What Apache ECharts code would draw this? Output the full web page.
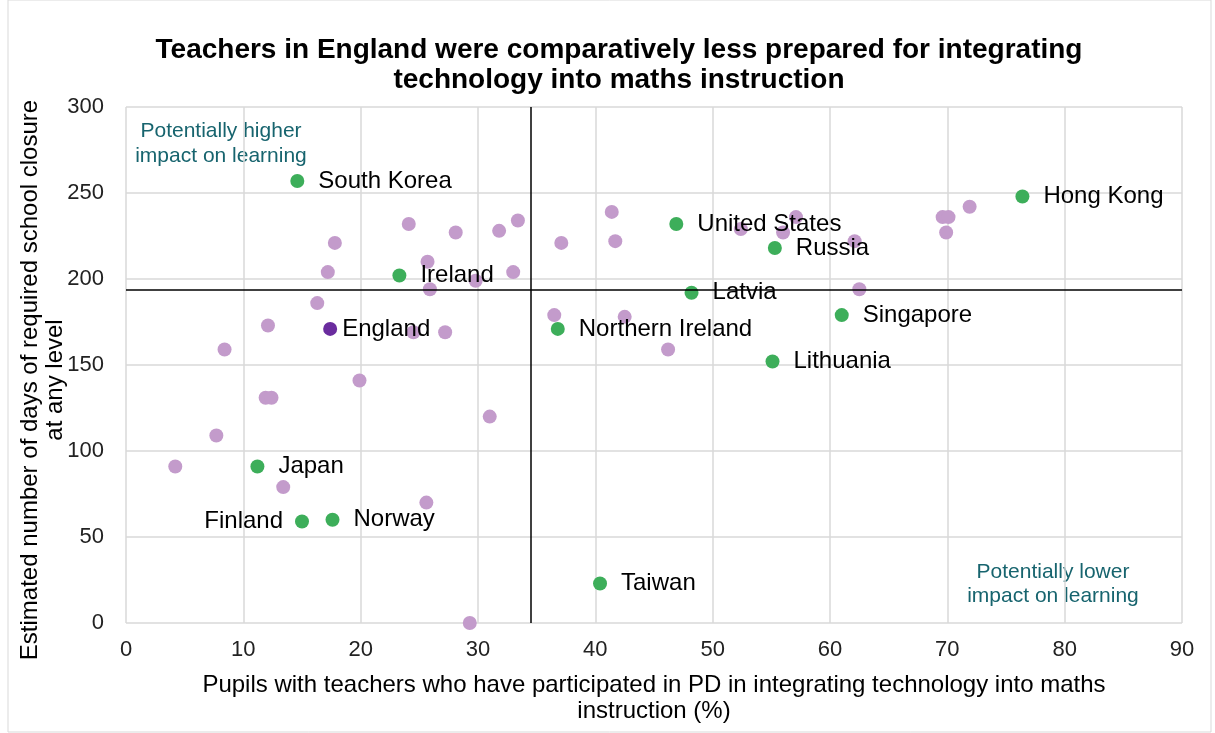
<!DOCTYPE html>
<html>
<head>
<meta charset="utf-8">
<script src="https://cdn.jsdelivr.net/npm/echarts@6/dist/echarts.min.js"></script>
<style>
  html, body { margin: 0; padding: 0; background: #fff; }
  #chart { width: 1215px; height: 733px; }
</style>
</head>
<body>
<div id="chart"></div>
<script>
// highlighted countries (green), with labels
const countryNames = ["South Korea", "Ireland", "United States", "Russia", "Latvia", "Northern Ireland",
  "Singapore", "Lithuania", "Hong Kong", "Japan", "Finland", "Norway", "Taiwan"]
const countryPD = [14.6, 23.3, 46.9, 55.3, 48.2, 36.8, 61.0, 55.1, 76.4, 11.2, 15.0, 17.6, 40.4]
const countryDays = [257, 202, 232, 218, 192, 171, 179, 152, 248, 91, 59, 60, 23]

// England
const englandPD = 17.4
const englandDays = 171

// other countries (unlabelled)
const otherPD = [17.8, 17.2, 24.1, 28.1, 25.7, 31.8, 33.4, 33.0, 29.8, 25.9, 16.3, 12.1, 24.5, 27.2, 8.4,
  19.9, 11.9, 12.4, 31.0, 7.7, 4.2, 13.4, 25.6, 29.3,
  37.1, 41.4, 41.7, 52.4, 57.1, 56.0, 62.1, 62.5, 36.5, 42.5, 46.2,
  69.6, 70.1, 69.9, 71.9]
const otherDays = [221, 204, 232, 227, 210, 228, 234, 204, 199, 194, 186, 173, 169, 169, 159,
  141, 131, 131, 120, 109, 91, 79, 70, 0,
  221, 239, 222, 229, 236, 227, 222, 194, 179, 178, 159,
  236, 236, 227, 242]

// reference lines (averages)
const avgPD = 34.5
const avgDays = 194

const font = "'Liberation Sans', Arial, sans-serif"
const chart = echarts.init(document.getElementById("chart"))

const countryData = countryNames.map((n, i) => ({
  name: n,
  value: [countryPD[i], countryDays[i]],
  label: n === "Finland" ? { position: "left", distance: 12 } : undefined,
}))

chart.setOption({
  backgroundColor: "#fff",
  textStyle: { fontFamily: font },
  title: {
    text: "Teachers in England were comparatively less prepared for integrating\ntechnology into maths instruction",
    left: 614, top: 30, textAlign: "center",
    textStyle: { fontFamily: font, fontSize: 28, fontWeight: "bold", color: "#000", lineHeight: 30 },
  },
  grid: { left: 126, right: 33, top: 107, bottom: 110, containLabel: false, outerBoundsMode: "none" },
  xAxis: {
    type: "value", min: 0, max: 90, interval: 10,
    name: "Pupils with teachers who have participated in PD in integrating technology into maths\ninstruction (%)",
    nameLocation: "middle", nameGap: 49, nameMoveOverlap: false,
    nameTextStyle: { fontFamily: font, fontSize: 24, color: "#000", lineHeight: 26 },
    axisLine: { show: false },
    axisTick: { show: false },
    axisLabel: { fontFamily: font, fontSize: 22, color: "#222", margin: 16 },
    splitLine: { lineStyle: { color: "#d9d9d9", width: 1.5 } },
  },
  yAxis: {
    type: "value", min: 0, max: 300, interval: 50,
    name: "Estimated number of days of required school closure\nat any level",
    nameLocation: "middle", nameGap: 58, nameMoveOverlap: false,
    nameTextStyle: { fontFamily: font, fontSize: 24, color: "#000", lineHeight: 25, padding: [0, 30, 0, 0] },
    axisLine: { show: false },
    axisTick: { show: false },
    axisLabel: { fontFamily: font, fontSize: 22, color: "#222", margin: 22 },
    splitLine: { lineStyle: { color: "#d9d9d9", width: 1.5 } },
  },
  graphic: [
    {
      type: "text", x: 221, y: 119,
      style: { text: "Potentially higher\nimpact on learning", fontFamily: font, fontSize: 21,
        fill: "#17646e", lineHeight: 25, align: "center", verticalAlign: "top" },
    },
    {
      type: "text", x: 1053, y: 560,
      style: { text: "Potentially lower\nimpact on learning", fontFamily: font, fontSize: 21,
        fill: "#17646e", lineHeight: 24, align: "center", verticalAlign: "top" },
    },
    {
      type: "rect", shape: { x: 8, y: 0, width: 1203, height: 732 },
      style: { fill: "none", stroke: "#d9d9d9", lineWidth: 1 }, silent: true, z: -1,
    },
  ],
  series: [
    {
      type: "scatter",
      data: otherPD.map((x, i) => [x, otherDays[i]]),
      symbolSize: 14,
      itemStyle: { color: "#c39bcb", opacity: 1 },
      silent: true,
      z: 3,
      markLine: {
        silent: true, symbol: "none",
        label: { show: false },
        lineStyle: { color: "#000", width: 1.5, type: "solid" },
        data: [{ xAxis: avgPD }, { yAxis: avgDays }],
      },
    },
    {
      type: "scatter",
      data: countryData,
      symbolSize: 14,
      itemStyle: { color: "#3dae5a", opacity: 1 },
      label: {
        show: true, position: "right", distance: 14,
        formatter: p => p.name,
        fontFamily: font, fontSize: 24, color: "#000",
      },
      z: 4,
    },
    {
      type: "scatter",
      data: [{ name: "England", value: [englandPD, englandDays] }],
      symbolSize: 14,
      itemStyle: { color: "#6a2c9e", opacity: 1 },
      label: {
        show: true, position: "right", distance: 5,
        formatter: p => p.name,
        fontFamily: font, fontSize: 24, color: "#000",
      },
      z: 5,
    },
  ],
})

window.addEventListener("resize", () => chart.resize())
</script>
</body>
</html>
